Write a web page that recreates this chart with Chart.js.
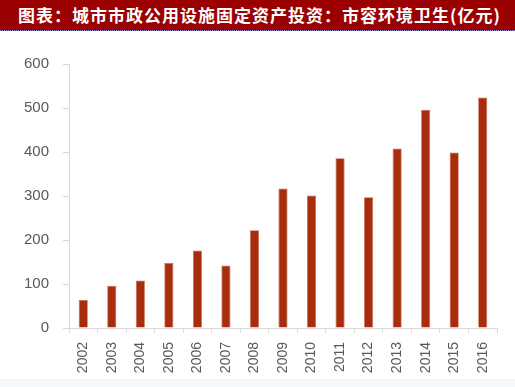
<!DOCTYPE html>
<html>
<head>
<meta charset="utf-8">
<script src="https://cdn.jsdelivr.net/npm/chart.js@4/dist/chart.umd.min.js"></script>
<style>
  html, body { margin: 0; padding: 0; background: #ffffff; }
  #wrap { position: relative; width: 515px; height: 387px; overflow: hidden; background: #ffffff; }
  #title { position: absolute; left: 0; top: 0; width: 515px; height: 31px; background: #9a0000;
           color: #ffffff; font-family: "Noto Sans CJK SC", sans-serif; font-weight: bold; font-size: 17px;
           line-height: 30px; padding-left: 18px; box-sizing: border-box; letter-spacing: 1.0px; white-space: nowrap;
           border-bottom: 1px dotted #8f8fd0; }
  #foot { position: absolute; left: 0; top: 379px; width: 515px; height: 8px; background: #f3f8fd; }
  #c { position: absolute; left: 0; top: 0; }
</style>
</head>
<body>
<div id="wrap">
  <div id="title">图表：城市市政公用设施固定资产投资：市容环境卫生(亿元)</div>
  <div id="foot"></div>
  <canvas id="c" width="515" height="387"></canvas>
</div>
<script>
const years = ["2002","2003","2004","2005","2006","2007","2008","2009","2010","2011","2012","2013","2014","2015","2016"];
const investment = [64, 96, 108, 148, 176, 142, 222, 317, 301, 386, 297, 408, 496, 399, 524];
const yTicks = [0, 100, 200, 300, 400, 500, 600];

const axisColor = '#d9d9d9';
const labelColor = '#595959';

new Chart(document.getElementById('c'), {
  type: 'bar',
  data: {
    labels: years,
    datasets: [{
      data: investment,
      backgroundColor: '#a82d0e',
      borderColor: '#c86a52',
      borderWidth: 0.8,
      categoryPercentage: 1.0,
      barPercentage: 0.32
    }]
  },
  options: {
    responsive: false,
    animation: false,
    devicePixelRatio: 1,
    layout: { padding: { top: 64, right: 18, left: 0, bottom: 0 } },
    plugins: { legend: { display: false }, tooltip: { enabled: false }, title: { display: false } },
    scales: {
      x: {
        offset: true,
        grid: { offset: true, drawOnChartArea: false, drawTicks: true, tickLength: 5, color: axisColor },
        border: { display: true, color: axisColor, width: 1 },
        ticks: { color: labelColor, font: { family: 'Liberation Sans', size: 14 }, minRotation: 90, maxRotation: 90, padding: 9, autoSkip: false },
        afterFit: s => { s.height = 59; }
      },
      y: {
        min: 0, max: 600,
        afterBuildTicks: s => { s.ticks = yTicks.map(v => ({ value: v })); },
        grid: { drawOnChartArea: false, drawTicks: true, tickLength: 6, color: axisColor },
        border: { display: true, color: axisColor, width: 1 },
        ticks: { color: labelColor, font: { family: 'Liberation Sans', size: 15 }, padding: 14 },
        afterFit: s => { s.width = 69; }
      }
    }
  }
});
</script>
</body>
</html>
